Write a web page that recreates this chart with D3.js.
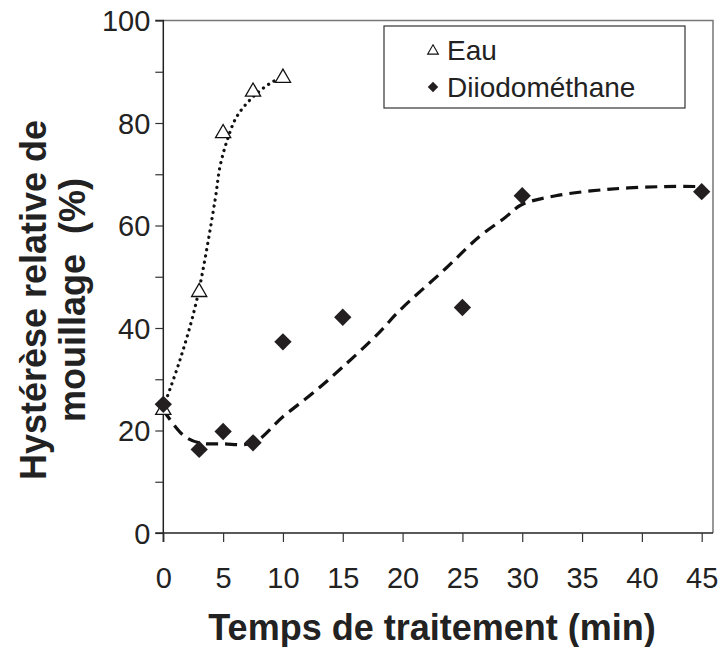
<!DOCTYPE html>
<html><head><meta charset="utf-8">
<script src="https://cdn.jsdelivr.net/npm/d3@7"></script>
<style>body{margin:0;background:#fff}svg{display:block}text{font-family:"Liberation Sans",Arial,sans-serif}</style>
</head><body>
<script>
const eauTime = [0, 3, 5, 7.5, 10];
const eauValues = [24, 47, 78, 86.1, 88.8];
const diiTime = [0, 3, 5, 7.5, 10, 15, 25, 30, 45];
const diiValues = [25.1, 16.3, 19.8, 17.6, 37.3, 42.1, 44.0, 65.8, 66.6];
// trend curves
const eauFitTime = [0, 1.4, 2.8, 4.33, 4.74, 5.35, 6.13, 7.5, 9.18, 10.15];
const eauFitValues = [24.5, 33.8, 45.5, 65.0, 71.5, 76.7, 81.2, 85.1, 88.1, 89.0];
const diiFitTime = [0, 1.66, 3, 5, 7.5, 10, 12.5, 15, 18, 19.7, 23.6, 26.4, 28.6, 29.9, 32.8, 37.4, 41.9, 44.7];
const diiFitValues = [24.0, 19.1, 17.6, 17.4, 17.6, 22.7, 27.3, 32.4, 39.0, 43.3, 51.6, 57.8, 61.6, 64.0, 65.8, 67.1, 67.6, 67.6];
const xTicks = [0, 5, 10, 15, 20, 25, 30, 35, 40, 45];
const yTicks = [0, 10, 20, 30, 40, 50, 60, 70, 80, 90, 100];
const yLabels = [0, 20, 40, 60, 80, 100];
const legendLabels = ["Eau", "Diiodométhane"];

const W = 720, H = 647;
const L = 163.3, T = 20.5, R = 713, B = 533;
const FONT = '"Liberation Sans",Arial,sans-serif';
const svg = d3.select("body").append("svg").attr("width", W).attr("height", H);
const x = d3.scaleLinear().domain([0, 45]).range([L, 701.7]);
const y = d3.scaleLinear().domain([0, 100]).range([B, T]);

// frame top & right (gray)
svg.append("path").attr("d", `M${L},${T}H${R}V${B}`).attr("fill", "none").attr("stroke", "#777").attr("stroke-width", 1.5);

// y axis
const yAx = svg.append("g").attr("transform", `translate(${L},0)`)
  .call(d3.axisLeft(y).tickValues(yTicks).tickSize(8).tickPadding(5)
    .tickFormat(d => yLabels.includes(d) ? d : ""));
// x axis
const xAx = svg.append("g").attr("transform", `translate(0,${B})`)
  .call(d3.axisBottom(x).tickValues(xTicks).tickSize(9).tickPadding(14));
[xAx, yAx].forEach(g => {
  g.attr("font-size", 29).attr("font-family", FONT);
  g.select(".domain").attr("stroke", "#222").attr("stroke-width", 1.5);
  g.selectAll(".tick line").attr("stroke", "#333").attr("stroke-width", 1.2);
  g.selectAll("text").attr("fill", "#222");
});
xAx.selectAll(".tick text").attr("y", null).attr("dy", null).attr("transform", "translate(0,55)");
yAx.selectAll(".tick text").attr("dy", "0.35em");
xAx.select(".domain").attr("d", `M${L - 8},0H${R}`);
yAx.select(".domain").attr("d", `M0,${B + 9}V${T}H-8`);

// curves
const line = d3.line().x(d => x(d[0])).y(d => y(d[1])).curve(d3.curveCatmullRom.alpha(0.5));
svg.append("path").datum(eauFitTime.map((t, i) => [t, eauFitValues[i]]))
  .attr("d", line).attr("fill", "none").attr("stroke", "#111").attr("stroke-width", 3.2)
  .attr("stroke-dasharray", "0.1 6.2").attr("stroke-linecap", "round");
svg.append("path").datum(diiFitTime.map((t, i) => [t, diiFitValues[i]]))
  .attr("d", line).attr("fill", "none").attr("stroke", "#111").attr("stroke-width", 3.2)
  .attr("stroke-dasharray", "12 7");

// markers
const tri = d3.symbol().type(d3.symbolTriangle).size(100);
const dia = d3.symbol().type(d3.symbolSquare).size(150);
svg.append("g").selectAll("path").data(eauTime.map((t, i) => [t, eauValues[i]])).join("path")
  .attr("d", tri).attr("transform", d => `translate(${x(d[0])},${y(d[1])})`)
  .attr("fill", "#fff").attr("stroke", "#111").attr("stroke-width", 1.3);
svg.append("g").selectAll("path").data(diiTime.map((t, i) => [t, diiValues[i]])).join("path")
  .attr("d", dia).attr("transform", d => `translate(${x(d[0])},${y(d[1])}) rotate(45)`)
  .attr("fill", "#231f20");

// legend
const lg = svg.append("g");
lg.append("rect").attr("x", 384).attr("y", 26).attr("width", 301).attr("height", 82)
  .attr("fill", "#fff").attr("stroke", "#333").attr("stroke-width", 1.2);
lg.append("path").attr("d", d3.symbol().type(d3.symbolTriangle).size(50))
  .attr("transform", "translate(433,51)").attr("fill", "#fff").attr("stroke", "#111").attr("stroke-width", 1.1);
lg.append("path").attr("d", d3.symbol().type(d3.symbolSquare).size(55))
  .attr("transform", "translate(433,87) rotate(45)").attr("fill", "#231f20");
lg.selectAll("text").data(legendLabels).join("text")
  .attr("x", 447).attr("y", (d, i) => 60 + i * 37).attr("font-size", 28).attr("fill", "#222").text(d => d);

// axis titles
svg.append("text").attr("x", 432).attr("y", 640).attr("text-anchor", "middle")
  .attr("font-size", 36).attr("font-weight", "bold").attr("fill", "#222").text("Temps de traitement (min)");
const yt = svg.append("text").attr("transform", "translate(0,300) rotate(-90)").attr("text-anchor", "middle")
  .attr("font-size", 36).attr("font-weight", "bold").attr("fill", "#222");
yt.append("tspan").attr("x", 0).attr("y", 46).text("Hystérèse relative de");
yt.append("tspan").attr("x", 0).attr("y", 85).attr("xml:space", "preserve").style("white-space", "pre").text("mouillage  (%)");
</script>
</body></html>
